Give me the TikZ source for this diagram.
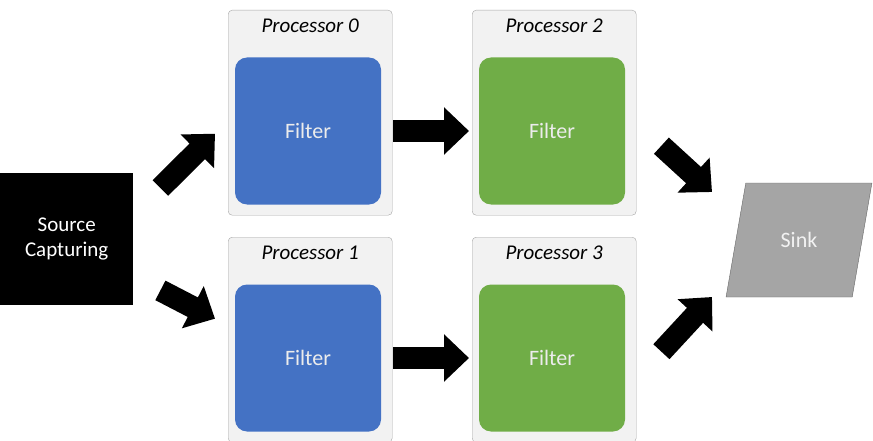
\documentclass[tikz,border=0pt]{standalone}
\usepackage{fontspec}
\setmainfont{Carlito}
\usetikzlibrary{arrows.meta,positioning,shapes.geometric}
\definecolor{procgray}{HTML}{F2F2F2}
\definecolor{filterblue}{HTML}{4472C4}
\definecolor{filtergreen}{HTML}{70AD47}
\definecolor{sinkgray}{HTML}{A5A5A5}
\begin{document}
\begin{tikzpicture}[
    x=1pt, y=-1pt,
    % styles
    proc/.style={
        draw=gray!70,
        fill=procgray,
        rounded corners=4pt,
        minimum width=164pt,
        minimum height=205pt,
        anchor=north west
    },
    filter/.style={
        rounded corners=12pt,
        text=white!85!gray,
        minimum width=146pt,
        minimum height=147pt,
        font=\fontsize{22}{26}\selectfont
    },
    plabel/.style={font=\itshape\fontsize{21}{24}\selectfont, below=5pt},
    bigarrow/.style={
        line width=22pt,
        -{Triangle[length=25pt,width=46pt]}
    }
]
    \useasboundingbox (0,0) rectangle (873,441);

    % --- source ---
    \node[fill=black, text=white, minimum width=133pt, minimum height=132pt,
          align=center, font=\fontsize{21}{25}\selectfont, anchor=north west]
          (src) at (0,173) {Source\\Capturing};

    % --- processors ---
    \node[proc] (p0) at (228,10) {};
    \node[proc] (p2) at (472,10) {};
    \node[proc] (p1) at (228,237) {};
    \node[proc] (p3) at (472,237) {};

    \foreach \p/\n in {p0/0, p1/1, p2/2, p3/3}
        \node[plabel] at (\p.north) {Processor \n};

    \node[filter, fill=filterblue] (f0) at (308,131) {Filter};
    \node[filter, fill=filtergreen] (f2) at (552,131) {Filter};
    \node[filter, fill=filterblue] (f1) at (308,358) {Filter};
    \node[filter, fill=filtergreen] (f3) at (552,358) {Filter};

    % --- sink ---
    \node[trapezium, trapezium left angle=70, trapezium right angle=110,
          draw=gray!80!black, fill=sinkgray, text=white!90!gray,
          minimum width=146pt, minimum height=114pt, trapezium stretches=true,
          font=\fontsize{22}{26}\selectfont] (sink) at (799,240) {Sink};

    % --- arrows ---
    \draw[bigarrow] ([shift={(27,15)}]src.north east) -- ([shift={(-13,21)}]p0.west);
    \draw[bigarrow] ([shift={(27,-15)}]src.south east) -- ([shift={(-13,-21)}]p1.west);
    \draw[bigarrow] ([xshift=1pt]p0.east |- f0) -- ([xshift=-3pt]p2.west |- f0);
    \draw[bigarrow] ([xshift=1pt]p1.east |- f1) -- ([xshift=-3pt]p3.west |- f1);
    \draw[bigarrow] ([shift={(25,33)}]p2.east) -- ([shift={(-87,-48)}]sink.center);
    \draw[bigarrow] ([shift={(25,12)}]p3.east) -- ([shift={(-87,57)}]sink.center);
\end{tikzpicture}
\end{document}
